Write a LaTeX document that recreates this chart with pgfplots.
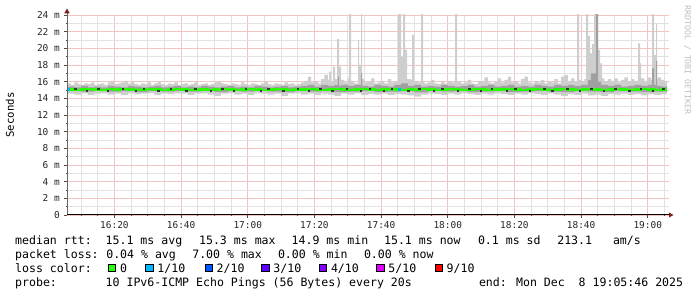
\documentclass[border=0pt]{standalone}
\usepackage{fontspec}
\usepackage{pgfplots}
\usepackage{pgfplotstable}
\pgfplotsset{compat=1.18}
\usepgfplotslibrary{fillbetween}
\newfontfamily\rrd{DejaVu Sans Mono}
\definecolor{smokeA}{RGB}{206,206,206}
\definecolor{smokeB}{RGB}{160,160,160}
\definecolor{medgreen}{RGB}{38,255,0}
\definecolor{loss1}{RGB}{0,184,255}
\definecolor{loss2}{RGB}{0,89,255}
\definecolor{loss3}{RGB}{94,0,255}
\definecolor{loss4}{RGB}{126,0,255}
\definecolor{loss5}{RGB}{221,0,255}
\definecolor{loss9}{RGB}{255,0,0}
\definecolor{gridred}{RGB}{243,196,196}
\definecolor{gridgray}{RGB}{226,226,226}
\definecolor{arrowred}{RGB}{128,30,30}
\definecolor{wmark}{RGB}{190,190,190}

\pgfplotstableread{
x y
5.77 15.8
7 15.6
8 15.9
9 15.7
10 15.6
11 15.8
12 15.7
13 15.9
14 15.6
15 15.7
16 15.8
17 15.6
18 15.9
19 16.1
20 15.7
21 15.8
22 15.9
23 16.1
24 15.8
25 16.0
26 15.7
27 15.6
28 15.8
29 15.7
30 15.9
31 15.6
32 15.8
33 16.0
34 15.7
35 15.6
36 15.8
37 15.7
38 15.9
39 15.6
40 15.7
41 15.8
42 15.6
43 15.7
44 15.9
45 15.6
46 15.7
47 15.8
48 15.6
49 15.7
50 15.9
51 16.0
52 15.8
53 15.7
54 15.6
55 15.8
56 15.7
57 15.6
58 15.9
59 15.7
60 15.6
61 15.8
62 15.7
63 15.6
64 15.8
65 16.0
66 15.7
67 15.6
68 15.8
69 15.7
70 15.6
71 15.9
72 15.7
73 15.8
74 15.6
75 15.7
76 15.9
77 16.1
78 16.6
79 15.9
80 16.0
81 15.8
82 16.3
83 16.8
84 16.2
84.4 17.2
85 16.0
85.6 17.8
86.2 16.3
86.8 21.1
87.4 17.8
88 16.2
89 15.9
90 16.4
90.4 24.5
91 16.1
92 15.8
93 16.2
93.1 21.0
93.4 18.0
94 24.5
94.3 16.3
95 15.9
96 16.0
97 16.4
98 15.8
99 15.9
100 16.1
101 15.8
102 16.3
103 15.9
104 16.0
105 16.2
105.1 24.5
106 19.0
106.6 24.5
107.2 19.8
107.8 16.3
109 16.2
109.3 21.6
109.9 16.1
111 15.9
112 24.5
112.6 16.0
113 15.8
114 15.9
115 16.2
116 15.8
117 15.7
118 16.0
119 15.8
120 16.1
121 15.9
122 16.0
122.2 24.5
122.8 16.0
124 15.8
125 15.9
126 16.2
127 15.8
128 15.7
129 16.1
130 16.0
131 16.5
132 15.9
133 15.8
134 16.0
135 16.4
136 15.9
137 16.2
138 16.6
139 15.9
140 16.0
141 15.8
142 16.3
143 16.6
144 15.9
145 15.8
146 16.1
147 15.9
148 16.2
149 15.8
150 16.0
151 15.9
152 16.3
153 15.8
154 16.6
155 16.8
156 16.1
157 16.4
158 16.0
158.8 24.5
159.4 16.2
160 16.0
161 16.3
161.5 24.5
162.1 21.5
162.7 19.4
163.3 20.5
163.9 24.5
165.1 19.8
165.7 18.2
166.3 16.4
167 16.0
168 16.3
169 16.1
170 16.4
171 15.9
172 16.2
173 16.5
174 16.0
175 16.3
176 16.1
177 16.6
177.1 20.6
177.7 18.2
178 16.4
179 16.1
180 16.5
181 16.2
181.3 24.5
181.9 19.2
182.5 23.0
182.8 16.3
183 16.5
184 16.2
185 16.0
185.77 16.0
}\outerup

\pgfplotstableread{
x y
5.77 14.55
8 14.45
10 14.6
12 14.4
14 14.55
16 14.6
18 14.45
20 14.55
22 14.4
24 14.6
26 14.5
28 14.55
30 14.6
32 14.4
34 14.55
36 14.5
38 14.6
40 14.55
42 14.4
44 14.55
46 14.6
48 14.45
50 14.3
52 14.55
54 14.6
56 14.45
58 14.55
60 14.4
62 14.6
64 14.55
66 14.45
68 14.55
70 14.3
72 14.55
74 14.6
76 14.45
78 14.55
80 14.4
82 14.55
84 14.45
86 14.3
88 14.55
90 14.45
92 14.6
94 14.4
96 14.5
98 14.45
100 14.55
102 14.4
104 14.5
106 14.45
108 14.35
110 14.2
112 14.45
114 14.55
116 14.5
118 14.4
120 14.55
122 14.45
124 14.6
126 14.5
128 14.4
130 14.55
132 14.45
134 14.6
136 14.5
138 14.4
140 14.55
142 14.45
144 14.6
146 14.5
148 14.4
150 14.55
152 14.45
154 14.3
156 14.5
158 14.4
160 14.55
162 14.35
164 14.45
166 14.3
168 14.5
170 14.45
172 14.55
174 14.4
176 14.5
178 14.35
180 14.5
182 14.4
184 14.5
185.77 14.5
}\outerlo

\pgfplotstableread{
x y
5.77 15.4
8 15.3
10 15.5
12 15.3
14 15.4
16 15.3
18 15.5
20 15.4
22 15.3
24 15.5
26 15.4
28 15.3
30 15.4
32 15.5
34 15.3
36 15.4
38 15.5
40 15.3
42 15.4
44 15.3
46 15.5
48 15.4
50 15.3
52 15.4
54 15.5
56 15.3
58 15.4
60 15.3
62 15.5
64 15.4
66 15.3
68 15.4
70 15.5
72 15.3
74 15.4
76 15.5
78 15.6
80 15.4
82 15.6
84 15.5
86 15.6
87 16.6
87.4 15.5
88 15.6
90 15.5
92 15.6
94 17.0
94.3 15.5
96 15.4
98 15.6
100 15.5
102 15.4
104 15.6
106 15.8
108 15.5
110 15.6
112 15.4
114 15.5
116 15.4
118 15.6
120 15.5
122 15.4
124 15.5
126 15.6
128 15.4
130 15.5
132 15.6
134 15.4
136 15.5
138 15.6
140 15.4
142 15.5
144 15.4
146 15.6
148 15.5
150 15.4
152 15.6
154 15.5
156 15.6
158 15.5
160 15.6
162 16.2
163 17.0
164.5 24.5
165.1 16.0
166 15.6
168 15.5
170 15.6
172 15.4
174 15.5
176 15.6
178 15.5
180 15.6
181.3 17.6
181.9 15.6
182.5 18.5
182.8 15.5
184 15.4
185.77 15.4
}\midup

\pgfplotstableread{
x y
5.77 14.85
10 14.8
14 14.9
18 14.8
22 14.85
26 14.75
30 14.85
34 14.8
38 14.9
42 14.8
46 14.85
50 14.75
54 14.85
58 14.8
62 14.9
66 14.8
70 14.75
74 14.85
78 14.8
82 14.85
86 14.75
90 14.8
94 14.85
98 14.75
102 14.8
106 14.85
110 14.7
114 14.85
118 14.8
122 14.85
126 14.75
130 14.8
134 14.85
138 14.75
142 14.8
146 14.85
150 14.8
154 14.75
158 14.85
162 14.8
166 14.75
170 14.85
174 14.8
178 14.75
182 14.8
185.77 14.8
}\midlo

\pgfplotstableread{
x y
5.77 15.05
8 15.0
10 15.05
12 15.1
14 15.05
16 15.0
18 15.1
20 15.05
22 15.1
24 15.05
26 15.0
28 15.05
30 15.1
32 15.05
34 15.0
36 15.05
38 15.1
40 15.05
42 15.0
44 15.05
46 15.05
48 15.0
50 15.05
52 15.1
54 15.05
56 15.0
58 15.05
60 15.1
62 15.05
64 15.0
66 15.05
68 15.1
70 15.05
72 15.0
74 15.05
76 15.05
78 15.1
80 15.05
82 15.0
84 15.05
86 15.1
88 15.05
90 15.0
92 15.05
94 15.1
96 15.05
98 15.0
100 15.05
102 15.1
104 15.05
106 15.0
108 15.05
110 15.05
112 15.1
114 15.05
116 15.0
118 15.05
120 15.1
122 15.05
124 15.0
126 15.05
128 15.1
130 15.05
132 15.0
134 15.05
136 15.05
138 15.1
140 15.05
142 15.0
144 15.05
146 15.1
148 15.05
150 15.0
152 15.05
154 15.1
156 15.05
158 15.0
160 15.05
162 15.1
164 15.05
166 15.0
168 15.05
170 15.1
172 15.05
174 15.0
176 15.05
178 15.1
180 15.05
182 15.0
184 15.05
185.77 15.05
}\median

\pgfplotstableread{
x y
8.2 15.18
11.6 14.93
15.1 15.2
17.9 14.92
22.4 15.19
26.3 14.94
28.7 15.2
33.1 14.92
36.8 15.19
41.5 14.93
44.2 15.2
48.9 14.92
52.3 15.19
55.7 14.94
59.4 15.2
63.8 14.92
66.1 15.19
70.6 14.93
74.9 15.2
78.2 14.92
81.7 15.19
85.3 14.93
89.6 15.2
93.9 14.92
96.5 15.19
100.8 14.94
103.2 15.2
108.1 14.92
111.4 15.19
115.7 14.93
118.3 15.2
122.9 14.92
126.4 15.19
129.8 14.94
133.1 15.2
137.6 14.92
140.2 15.19
144.5 14.93
148.9 15.2
151.3 14.92
155.8 15.19
159.6 14.93
163.0 15.2
166.7 14.92
170.2 15.19
174.4 14.94
177.9 15.2
181.5 14.92
184.6 15.19
}\darkdots

\newcommand\lt[3]{\node[anchor=base west, inner sep=0pt, font=\rrd\fontsize{11.6}{13}\selectfont] at (#1bp,#2bp) {#3};}
\newcommand\lbox[2]{\filldraw[fill=#2, draw=black, line width=0.8bp] (#1bp,25.2bp) rectangle ++(7.4bp,7.4bp);}

\begin{document}
\begin{tikzpicture}
\path (0,0) rectangle (697bp,297bp);
\begin{axis}[
  at={(67bp,82bp)}, anchor=south west,
  scale only axis, width=602bp, height=200bp,
  xmin=5.77, xmax=186.37, ymin=0, ymax=24,
  xtick={20,40,...,180},
  xticklabels={16:20,16:40,17:00,17:20,17:40,18:00,18:20,18:40,19:00},
  minor xtick={10,15,25,30,35,45,50,55,65,70,75,85,90,95,105,110,115,125,130,135,145,150,155,165,170,175,185},
  ytick={0,2,...,24},
  yticklabels={0,2 m,4 m,6 m,8 m,10 m,12 m,14 m,16 m,18 m,20 m,22 m,24 m},
  minor ytick={1,3,...,23},
  grid=both,
  major grid style={line width=0.9bp, color=gridred},
  minor grid style={line width=0.9bp, color=gridgray},
  axis line style={draw=none},
  xtick pos=bottom, ytick pos=left,
  tick align=outside,
  major tick length=3bp, minor tick length=1.5bp,
  tick style={color=black!70, line width=0.7bp},
  ticklabel style={font=\rrd\fontsize{9.5}{11}\selectfont, text=black!85, inner sep=0pt},
  yticklabel style={anchor=east, xshift=-4bp},
  xticklabel style={anchor=north, yshift=-3bp},
]
\addplot[name path=oup, draw=none, const plot] table {\outerup};
\addplot[name path=olo, draw=none, const plot] table {\outerlo};
\addplot[smokeA, draw=none] fill between[of=oup and olo];
\addplot[name path=mup, draw=none, const plot] table {\midup};
\addplot[name path=mlo, draw=none, const plot] table {\midlo};
\addplot[smokeB, draw=none] fill between[of=mup and mlo];
\addplot[only marks, mark=square*, mark size=0.6bp, color=black!80] table {\darkdots};
\addplot[const plot, medgreen, line width=2.2bp] table {\median};
\addplot[const plot, loss1, line width=2.2bp] coordinates {(5.77,15.05) (6.8,15.05)};
\addplot[const plot, loss1, line width=2.2bp] coordinates {(105.1,15.05) (106.0,15.05)};
\end{axis}
% axes
\draw[line width=0.9bp, color=black!60] (67bp,82bp) -- (67bp,284bp);
\fill[arrowred] (64.3bp,283.7bp) -- (69.7bp,283.7bp) -- (67bp,288.5bp) -- cycle;
\draw[line width=1bp, color=black] (67bp,82bp) -- (669bp,82bp);
\fill[arrowred] (669bp,79.5bp) -- (669bp,84.5bp) -- (673.5bp,82bp) -- cycle;
% labels
\node[rotate=90, font=\rrd\fontsize{10.7}{12}\selectfont, inner sep=0pt] at (10bp,182bp) {Seconds};
\node[rotate=-90, font=\rrd\fontsize{8.3}{9}\selectfont, text=wmark, inner sep=0pt] at (687.5bp,237bp) {RRDTOOL / TOBI OETIKER};
% legend line 1
\lt{15}{52.7}{median rtt:}
\lt{105.5}{52.7}{15.1 ms avg}
\lt{198.9}{52.7}{15.3 ms max}
\lt{291.5}{52.7}{14.9 ms min}
\lt{383.9}{52.7}{15.1 ms now}
\lt{477.8}{52.7}{0.1 ms sd}
\lt{557.1}{52.7}{213.1}
\lt{612.8}{52.7}{am/s}
% line 2
\lt{15}{38.4}{packet loss:}
\lt{106.1}{38.4}{0.04 \% avg}
\lt{192.1}{38.4}{7.00 \% max}
\lt{277.8}{38.4}{0.00 \% min}
\lt{363.8}{38.4}{0.00 \% now}
% line 3
\lt{15}{24.7}{loss color:}
\lbox{108.3}{medgreen}\lt{119.8}{24.7}{0}
\lbox{145.7}{loss1}\lt{157.2}{24.7}{1/10}
\lbox{205}{loss2}\lt{216.5}{24.7}{2/10}
\lbox{261.7}{loss3}\lt{273.2}{24.7}{3/10}
\lbox{319.3}{loss4}\lt{330.8}{24.7}{4/10}
\lbox{376.7}{loss5}\lt{388.2}{24.7}{5/10}
\lbox{435}{loss9}\lt{446.5}{24.7}{9/10}
% line 4
\lt{15}{10.3}{probe:}
\lt{105.5}{10.3}{10 IPv6-ICMP Echo Pings (56 Bytes) every 20s}
\lt{478.8}{10.3}{end: Mon Dec~~8 19:05:46 2025}
\end{tikzpicture}
\end{document}
